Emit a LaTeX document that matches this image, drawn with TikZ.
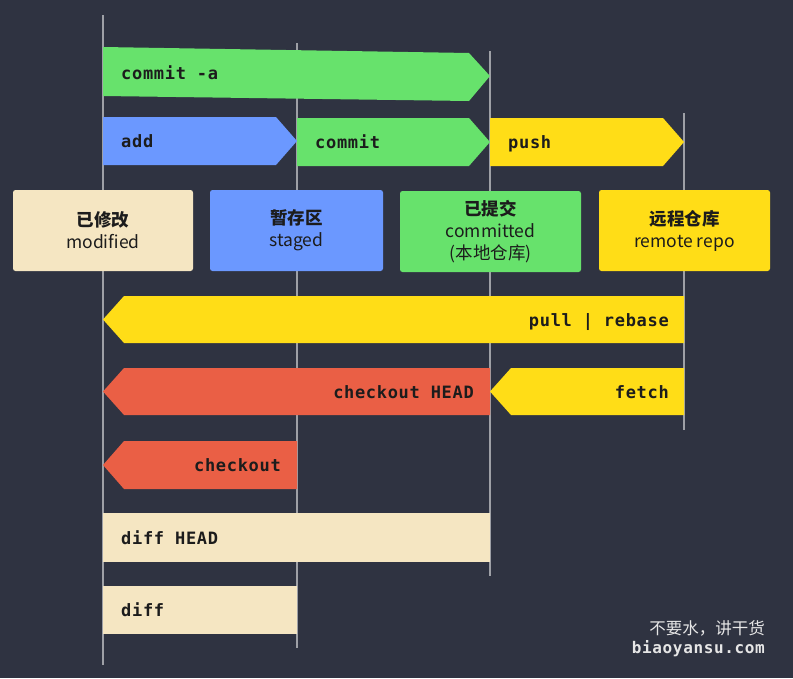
\documentclass[tikz,border=0pt]{standalone}
\usepackage{fontspec}
\setmonofont[LetterSpace=4]{DejaVu Sans Mono}
\newfontfamily\cjk{Noto Sans CJK SC}
\usetikzlibrary{positioning}
\definecolor{bgc}{HTML}{2F3341}
\definecolor{lanec}{HTML}{9EA0A6}
\definecolor{grnc}{HTML}{67E26C}
\definecolor{bluc}{HTML}{6B98FF}
\definecolor{yelc}{HTML}{FFDD17}
\definecolor{redc}{HTML}{EA5F45}
\definecolor{begc}{HTML}{F5E6C2}
\definecolor{inkc}{HTML}{1C1C1C}
\definecolor{footc}{HTML}{E6E6E6}

\begin{document}
\begin{tikzpicture}[x=1pt, y=-1pt,
          lane/.style={draw=lanec, line width=1.6pt},
          cmd/.style={font=\ttfamily\bfseries\fontsize{17}{20}\selectfont, text=inkc, inner sep=0pt, text height=12pt, text depth=0pt},
          stage/.style={rounded corners=2.5pt, inner sep=0pt, minimum height=81pt, align=center, text=inkc, font=\cjk\fontsize{17.5}{22}\selectfont},
          foot/.style={anchor=east, text=footc, inner sep=0pt}]
        \fill[bgc] (0,0) rectangle (793,678);
        % lanes
        \foreach \x/\a/\b in {103/15/665, 297/43/648, 490/51/576, 684/113/430} \draw[lane] (\x,\a) -- (\x,\b);
        % forward commands
        \fill[grnc] (103,47) -- (469,53) -- (490,76) -- (469,101) -- (103,96) -- cycle;
        \foreach \l/\r/\t/\b/\c in {103/297/117/165/bluc, 297/490/118/166/grnc, 490/684/118/166/yelc}
          \fill[\c] (\l,\t) -- (\r-21,\t) -- (\r,{(\t+\b)/2}) -- (\r-21,\b) -- (\l,\b) -- cycle;
        \node[cmd, anchor=west] (cma) at (121,73) {commit -a};
        \node[cmd, anchor=west] (add) at (121,141) {add};
        \node[cmd, anchor=west] (cmt) at (315,142) {commit};
        \node[cmd, anchor=west] (psh) at (508,142) {push};
        % areas
        \node[stage, fill=begc, minimum width=180pt] (mod) at (103,230.5) {\textbf{已修改}\\modified};
        \node[stage, fill=bluc, minimum width=173pt] (stg) at (296.5,230.5) {\textbf{暂存区}\\staged};
        \node[stage, fill=grnc, minimum width=181pt] (loc) at (490.5,231.5) {\textbf{已提交}\\committed\\(本地仓库)};
        \node[stage, fill=yelc, minimum width=171pt] (rem) at (684.5,230.5) {\textbf{远程仓库}\\remote repo};
        % backward commands
        \foreach \l/\r/\t/\b/\c in {103/684/296/343/yelc, 103/490/368/415/redc, 490/684/368/415/yelc, 103/297/441/489/redc}
          \fill[\c] (\r,\t) -- (\l+21,\t) -- (\l,{(\t+\b)/2}) -- (\l+21,\b) -- (\r,\b) -- cycle;
        \node[cmd, anchor=east] (pll) at (669,320) {pull | rebase};
        \node[cmd, anchor=east] (coh) at (474,392) {checkout HEAD};
        \node[cmd, anchor=east] (fch) at (669,392) {fetch};
        \node[cmd, anchor=east] (cko) at (281,465) {checkout};
        % diffs
        \fill[begc] (103,513) rectangle (490,562); \fill[begc] (103,586) rectangle (297,634);
        \node[cmd, anchor=west] (dfh) at (121,538) {diff HEAD};
        \node[cmd, anchor=west] (dff) at (121,610) {diff};
        \node[foot, font=\cjk\fontsize{16.5}{18}\selectfont] (slg) at (765,628) {不要水，讲干货};
        \node[foot, font=\ttfamily\bfseries\fontsize{16}{18}\selectfont] (web) at (765,649) {biaoyansu.com};
      \end{tikzpicture}
\end{document}
